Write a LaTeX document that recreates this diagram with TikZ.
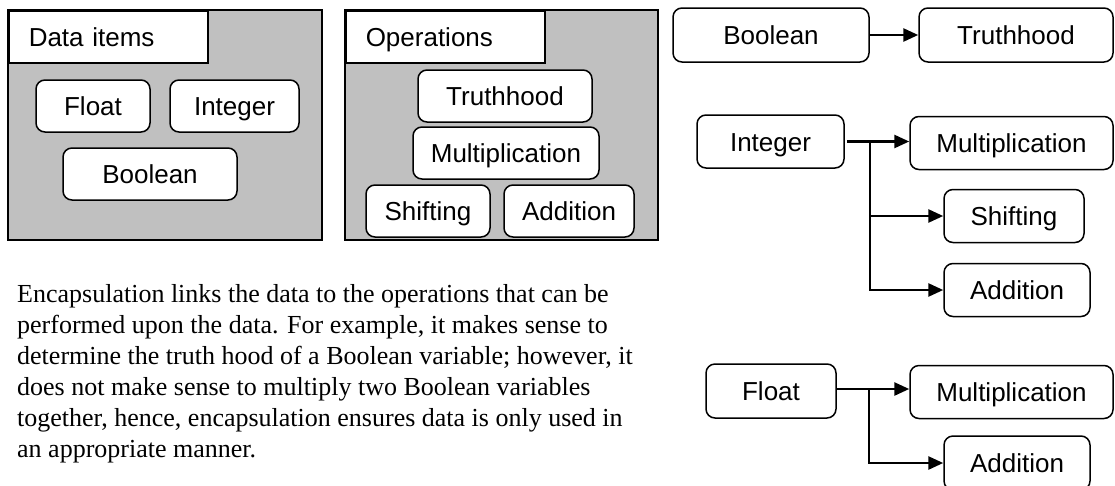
\documentclass[tikz,border=0pt]{standalone}
\usepackage{fontspec}
\setmainfont{Liberation Serif}
\setsansfont{Liberation Sans}
\usetikzlibrary{arrows.meta}
\definecolor{panelgray}{HTML}{C0C0C0}
\tikzset{
  panel/.style={draw, line width=2pt, fill=panelgray, inner sep=0pt},
  hdr/.style={draw, line width=1.5pt, fill=white, anchor=north west,
    minimum width=199pt, minimum height=52pt, inner xsep=20pt, inner ysep=0pt,
    text height=19pt, text depth=0pt,
    text width=159pt, align=left, font=\sffamily\fontsize{26}{30}\selectfont},
  item/.style={draw, line width=1.5pt, fill=white, rounded corners=9pt,
    inner sep=0pt, text height=19pt, text depth=0pt,
    font=\sffamily\fontsize{26}{30}\selectfont},
  flow/.style={line width=2.7pt, -{Triangle[length=15pt,width=13pt]}},
  para/.style={anchor=north west, inner sep=0pt, align=left,
    font=\fontsize{26}{31}\selectfont}
}
\begin{document}
\begin{tikzpicture}[x=1pt,y=-1pt]
\clip (0,0) rectangle (1115,485);
\useasboundingbox (0,0) rectangle (1115,485);
\fill[white] (0,0) rectangle (1115,485);

% Data items panel
\node[panel, minimum width=314pt, minimum height=230pt] (pdata) at (165,125) {};
\node[hdr] (hdata) at (8,10) {Data items};
\node[item, minimum width=114pt, minimum height=52pt] (dfloat) at (93,106) {Float};
\node[item, minimum width=129pt, minimum height=52pt] (dint) at (234.5,106) {Integer};
\node[item, minimum width=174pt, minimum height=52pt] (dbool) at (150,174) {Boolean};

% Operations panel
\node[panel, minimum width=313pt, minimum height=230pt] (pops) at (501.5,125) {};
\node[hdr] (hops) at (345,10) {Operations};
\node[item, minimum width=174pt, minimum height=52pt] (otruth) at (505,96) {Truthhood};
\node[item, minimum width=186pt, minimum height=52pt] (omul) at (506,153) {Multiplication};
\node[item, minimum width=124pt, minimum height=52pt] (oshift) at (428,211) {Shifting};
\node[item, minimum width=130pt, minimum height=52pt] (oadd) at (569,211) {Addition};

% Paragraph
\node[para] (txt) at (17,284) {Encapsulation links the data to the operations that can be\\
performed upon the data. For example, it makes sense to\\
determine the truth hood of a Boolean variable; however, it\\
does not make sense to multiply two Boolean variables\\
together, hence, encapsulation ensures data is only used in\\
an appropriate manner.};

% Right: Boolean
\node[item, minimum width=196pt, minimum height=54pt] (rbool) at (771,35) {Boolean};
\node[item, minimum width=194pt, minimum height=54pt] (rtruth) at (1016,35) {Truthhood};
\draw[flow] (rbool.east) -- (rtruth.west);

% Right: Integer
\node[item, minimum width=147pt, minimum height=53pt] (rint) at (770.5,141.5) {Integer};
\node[item, minimum width=203pt, minimum height=53pt] (rmul1) at (1011.5,143) {Multiplication};
\node[item, minimum width=140pt, minimum height=53pt] (rshift) at (1014,216) {Shifting};
\node[item, minimum width=146pt, minimum height=53pt] (radd1) at (1017,290) {Addition};
\coordinate (jint) at (870,141.5);
\draw[flow] ([xshift=2pt]rint.east) -- (rint.east -| rmul1.west);
\draw[flow] (jint) |- (rshift.west);
\draw[flow] (jint) |- (radd1.west);

% Right: Float
\node[item, minimum width=130pt, minimum height=54pt] (rfloat) at (771,391) {Float};
\node[item, minimum width=203pt, minimum height=53pt] (rmul2) at (1011.5,392) {Multiplication};
\node[item, minimum width=146pt, minimum height=54pt] (radd2) at (1017,463) {Addition};
\coordinate (jfl) at (869,389);
\draw[flow] (rfloat.east |- jfl) -- (jfl -| rmul2.west);
\draw[flow] (jfl) |- (radd2.west);
\end{tikzpicture}
\end{document}
